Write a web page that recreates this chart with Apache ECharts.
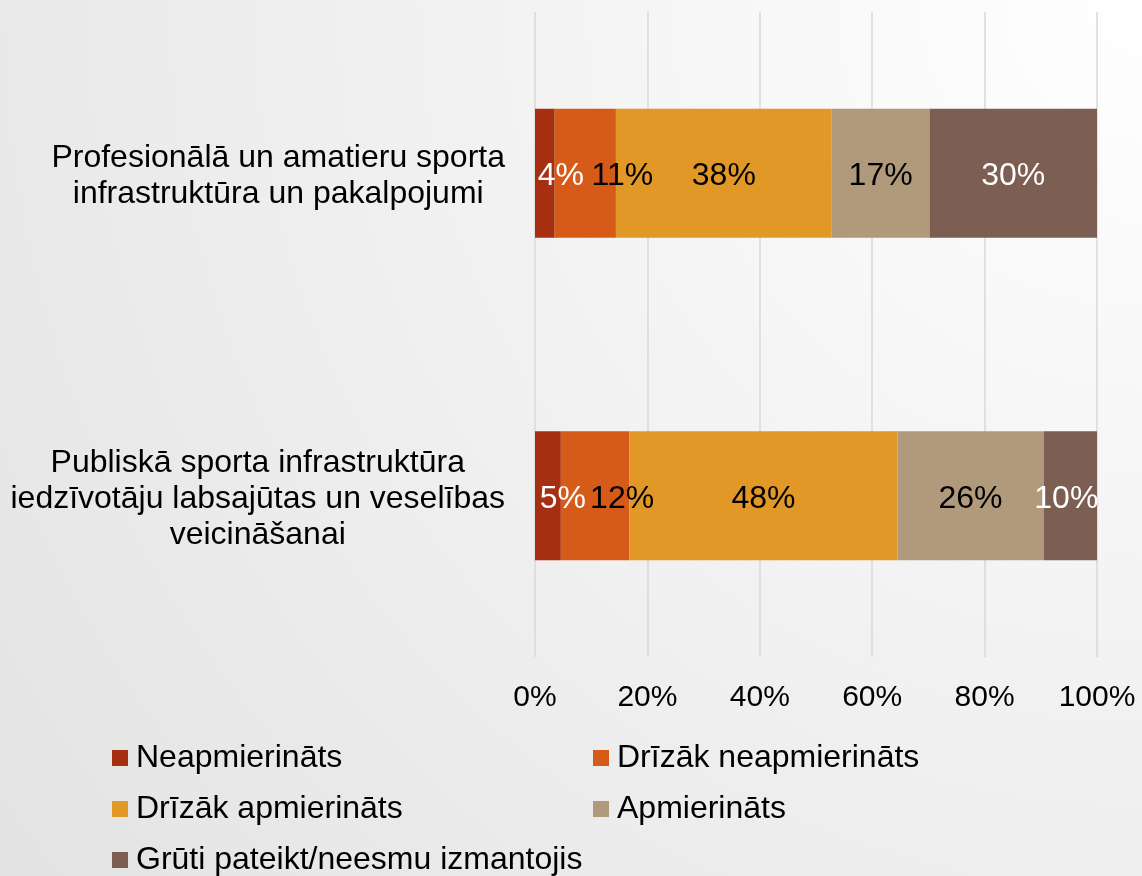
<!DOCTYPE html>
<html>
<head>
<meta charset="utf-8">
<script src="https://cdn.jsdelivr.net/npm/echarts@6/dist/echarts.min.js"></script>
<style>
  html, body { margin: 0; padding: 0; }
  #main { width: 1142px; height: 876px; }
</style>
</head>
<body>
<div id="main"></div>
<script>
// categories, top to bottom
let categories = [
    'Profesionālā un amatieru sporta\ninfrastruktūra un pakalpojumi',
    'Publiskā sporta infrastruktūra\niedzīvotāju labsajūtas un veselības\nveicināšanai'
];
let series_names = ['Neapmierināts', 'Drīzāk neapmierināts', 'Drīzāk apmierināts', 'Apmierināts', 'Grūti pateikt/neesmu izmantojis'];

// shares in %, one array per answer, [row1, row2]
let neapmierinats = [3.5, 4.6];
let drizak_neapmierinats = [10.9, 12.2];
let drizak_apmierinats = [38.4, 47.7];
let apmierinats = [17.4, 26.0];
let gruti_pateikt = [29.8, 9.5];

let x_ticks = [0, 20, 40, 60, 80, 100];

let colors = ['#a52f10', '#d65a18', '#e19826', '#b09a7b', '#7d5e52'];
let label_colors = ['#ffffff', '#000000', '#000000', '#000000', '#ffffff'];
// nudges so the narrow segments' labels do not collide (like the original)
let label_shift = [[16, 15], [37, 27], [0, 0], [0, 0], [0, -4]];

const FONT = 'Liberation Sans, Arial, sans-serif';
const FS = 32;

let values = [neapmierinats, drizak_neapmierinats, drizak_apmierinats, apmierinats, gruti_pateikt];

function gen_bar_series(i) {
    return {
        name: series_names[i],
        type: 'bar',
        stack: 'total',
        barWidth: '40%',
        itemStyle: {color: colors[i]},
        label: {
            show: true,
            position: 'inside',
            color: label_colors[i],
            fontFamily: FONT,
            fontSize: FS,
            formatter: p => Math.round(p.value) + '%'
        },
        data: values[i].map((v, k) => ({value: v, label: {offset: [label_shift[i][k], 3]}}))
    };
}

function gen_legend(i, left, top) {
    return {
        left: left,
        top: top,
        itemWidth: 16,
        itemHeight: 16,
        itemGap: 0,
        icon: 'rect',
        data: [series_names[i]],
        textStyle: {fontFamily: FONT, fontSize: FS, color: '#000', padding: [0, 0, 0, 3]}
    };
}

let chart = echarts.init(document.getElementById('main'));

let option = {
    animation: false,
    backgroundColor: {
        type: 'radial', x: 1, y: 0, r: 1.7,
        colorStops: [
            {offset: 0, color: '#ffffff'},
            {offset: 1, color: '#e2e2e2'}
        ]
    },
    grid: {left: 535, right: 45, top: 12, bottom: 219, containLabel: false},
    legend: [
        gen_legend(0, 107, 737),
        gen_legend(1, 588, 737),
        gen_legend(2, 107, 788),
        gen_legend(3, 588, 788),
        gen_legend(4, 107, 839)
    ],
    xAxis: {
        type: 'value',
        min: 0,
        max: 100,
        interval: 20,
        axisLine: {show: false},
        axisTick: {show: false},
        splitLine: {lineStyle: {color: '#d9d9d9', width: 1.5}},
        axisLabel: {
            fontFamily: FONT, fontSize: 30, color: '#000', margin: 26,
            formatter: v => x_ticks.includes(v) ? v + '%' : ''
        }
    },
    yAxis: {
        type: 'category',
        inverse: true,
        data: categories,
        axisLine: {show: false},
        axisTick: {show: false},
        axisLabel: {
            align: 'right',
            margin: 30,
            formatter: v => v.split('\n').map(s => '{c|' + s + '}').join('\n'),
            rich: {
                c: {align: 'center', fontFamily: FONT, fontSize: FS, color: '#000', lineHeight: 36, padding: [6, 0, 0, 0]}
            }
        }
    },
    series: [0, 1, 2, 3, 4].map(gen_bar_series)
};

chart.setOption(option);
</script>
</body>
</html>
